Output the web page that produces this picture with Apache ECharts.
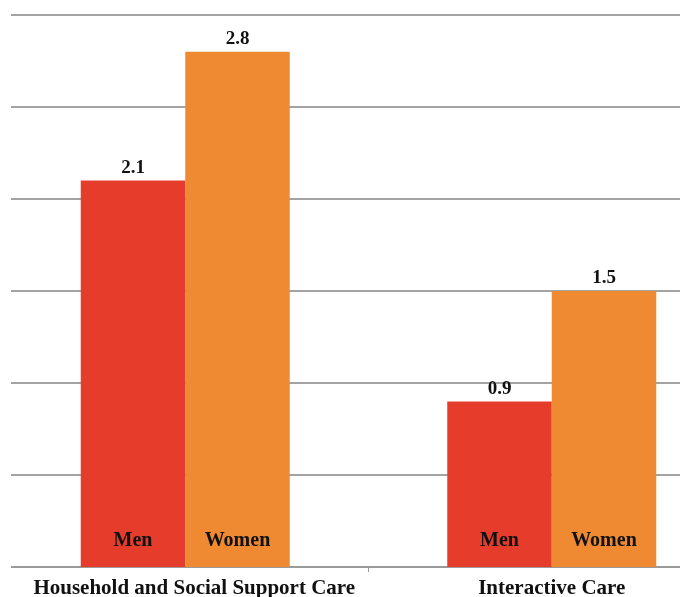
<!DOCTYPE html>
<html><head><meta charset="utf-8">
<script src="https://cdn.jsdelivr.net/npm/echarts@6/dist/echarts.min.js"></script>
<style>html,body{margin:0;padding:0;background:#fff}#c{width:680px;height:597px}</style>
</head><body><div id="c"></div>
<script>
const categories = ['Household and Social Support Care', 'Interactive Care'];
const seriesNames = ['Men', 'Women'];
const menValues = [2.1, 0.9];
const womenValues = [2.8, 1.5];
const yMin = 0, yMax = 3, yStep = 0.5;

const font = '"Liberation Serif", "DejaVu Serif", serif';
const colors = ['#E63C2C', '#EF8A33'];
const valuesBySeries = [menValues, womenValues];

const valueSeries = seriesNames.map((n, i) => ({
  name: n, type: 'bar', xAxisIndex: 0, data: valuesBySeries[i],
  barWidth: 104.5, barGap: '0%',
  itemStyle: { color: colors[i] },
  label: { show: true, position: 'top', distance: 3, color: '#111', fontFamily: font,
    fontWeight: 'bold', fontSize: 19, formatter: p => p.value.toFixed(1) },
  z: 3
}));
const nameSeries = seriesNames.map((n, i) => ({
  name: n + '_label', type: 'bar', xAxisIndex: 1, data: valuesBySeries[i],
  barWidth: 104.5, barGap: '0%',
  itemStyle: { color: 'rgba(0,0,0,0)' },
  label: { show: true, position: 'insideBottom', distance: 16, color: '#111', fontFamily: font,
    fontWeight: 'bold', fontSize: 20, formatter: () => n },
  silent: true, z: 4
}));

const chart = echarts.init(document.getElementById('c'), null, { renderer: 'canvas' });
chart.setOption({
  animation: false,
  grid: { left: 2, top: 15, width: 733, bottom: 30, containLabel: false, outerBoundsMode: 'none' },
  xAxis: [{
    type: 'category', data: categories,
    axisLine: { show: true, lineStyle: { color: '#9a9a9a', width: 2 } },
    axisTick: { show: true, alignWithLabel: false, length: 5, lineStyle: { color: '#9a9a9a', width: 1 } },
    axisLabel: { color: '#111', fontFamily: font, fontWeight: 'bold', fontSize: 21, margin: 11, interval: 0,
      formatter: (v, i) => i === 0 ? '{a|' + v + '}' : '{b|' + v + '}',
      rich: {
        a: { fontFamily: font, fontWeight: 'bold', fontSize: 21, color: '#111', padding: [0, 0, 0, 18] },
        b: { fontFamily: font, fontWeight: 'bold', fontSize: 21, color: '#111' }
      } }
  }, {
    type: 'category', data: categories, show: false
  }],
  yAxis: {
    type: 'value', min: yMin, max: yMax, interval: yStep,
    axisLine: { show: false }, axisTick: { show: false }, axisLabel: { show: false },
    splitLine: { show: true, lineStyle: { color: '#a3a3a3', width: 2 } }
  },
  series: [...valueSeries, ...nameSeries],
  graphic: [{ type: 'rect', left: 0, top: 0, shape: { width: 11, height: 576 }, style: { fill: '#fff' }, z: 100 }]
});
</script></body></html>
